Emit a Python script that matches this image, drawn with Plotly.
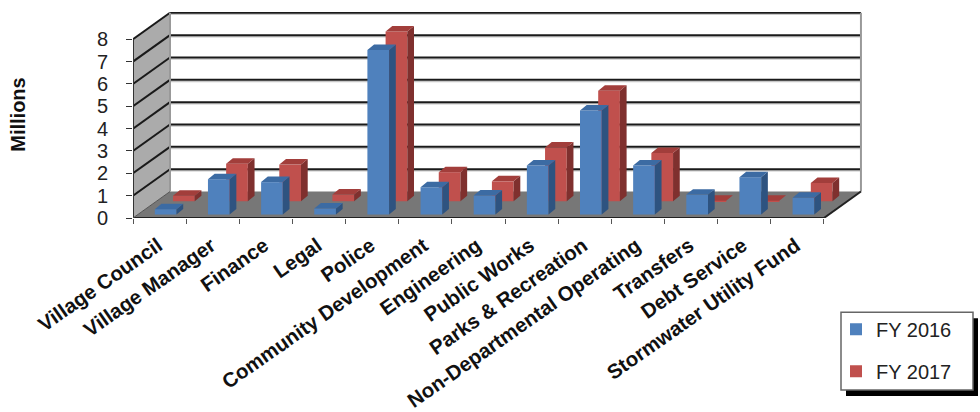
import plotly.graph_objects as go

categories = ["Village Council", "Village Manager", "Finance", "Legal", "Police",
              "Community Development", "Engineering", "Public Works", "Parks & Recreation",
              "Non-Departmental Operating", "Transfers", "Debt Service", "Stormwater Utility Fund"]
fy2016 = [0.24, 1.58, 1.45, 0.27, 7.36, 1.22, 0.85, 2.19, 4.66, 2.19, 0.89, 1.67, 0.75]
fy2017 = [0.25, 1.68, 1.64, 0.30, 7.60, 1.30, 0.89, 2.41, 4.94, 2.16, 0.02, 0.02, 0.82]
y_ticks = [0, 1, 2, 3, 4, 5, 6, 7, 8]

PX_X, PX_Y = 53.15, 22.4          # px per category, px per million
L, R, T, B = 133, 862, 12, 218.5  # plot area in px
W, H = 980, 412
DX, DY = 37 / PX_X, 26.5 / PX_Y   # depth of the floor
BW = 21.7 / PX_X                  # bar width
DW, DH = 6.7 / PX_X, 5.5 / PX_Y   # depth of a bar


def add_series(fig, vals, name, rank, left, base, front, top, side, xa, ya):
    n = len(vals)
    fig.add_trace(go.Bar(x=[i + left + BW / 2 for i in range(n)], y=vals, base=base, width=BW,
                         name=name, legendgroup=name, legendrank=rank,
                         marker=dict(color=front, line=dict(width=0)), xaxis=xa, yaxis=ya))
    sx, sy, tx, ty = [], [], [], []
    for i, v in enumerate(vals):
        x0, x1, y1 = i + left, i + left + BW, base + v
        sx += [x1, x1 + DW, x1 + DW, x1, x1, None]
        sy += [base, base + DH, y1 + DH, y1, base, None]
        tx += [x0, x1, x1 + DW, x0 + DW, x0, None]
        ty += [y1, y1, y1 + DH, y1 + DH, y1, None]
    for xs, ys, c in ((sx, sy, side), (tx, ty, top)):
        fig.add_trace(go.Scatter(x=xs, y=ys, mode="lines", fill="toself", fillcolor=c,
                                 line=dict(width=0), showlegend=False, hoverinfo="skip",
                                 xaxis=xa, yaxis=ya))


fig = go.Figure()
add_series(fig, fy2017, "FY 2017", 2, 40 / PX_X, 16.8 / PX_Y, "#C0504D", "#A23E3B", "#7F302E", "x", "y")
add_series(fig, fy2016, "FY 2016", 1, 21.8 / PX_X, 3.5 / PX_Y, "#4F81BD", "#3C6BA3", "#2E5380", "x2", "y2")

n = len(categories)
top_v = y_ticks[-1]
shapes = [
    dict(type="path", xref="x", yref="y", layer="below", line=dict(width=0), fillcolor="#FFFFFF",
         path=f"M{DX},{DY} H{n + DX} V{top_v + DY} H{DX} Z"),
    dict(type="path", xref="x", yref="y", layer="below", line=dict(width=0), fillcolor="#ABABAB",
         path=f"M0,0 L{DX},{DY} V{top_v + DY} L0,{top_v} Z"),
    dict(type="path", xref="x", yref="y", layer="below", line=dict(width=0), fillcolor="#777777",
         path=f"M0,0 L{DX},{DY} H{n + DX} L{n},0 Z"),
]
for v in y_ticks[1:]:
    shapes.append(dict(type="line", xref="x", yref="y", layer="below", x0=DX, x1=n + DX,
                       y0=v + DY - 0.07, y1=v + DY - 0.07, line=dict(color="#C8C8C8", width=1.5)))
    shapes.append(dict(type="line", xref="x", yref="y", layer="below", x0=DX, x1=n + DX,
                       y0=v + DY, y1=v + DY, line=dict(color="#1A1A1A", width=2)))
    shapes.append(dict(type="line", xref="x", yref="y", layer="below", x0=0, x1=DX,
                       y0=v, y1=v + DY, line=dict(color="#1A1A1A", width=2)))
for x in (DX, n + DX):
    shapes.append(dict(type="line", xref="x", yref="y", layer="below", x0=x, x1=x,
                       y0=DY, y1=top_v + DY, line=dict(color="#999999", width=2)))
shapes += [
    dict(type="line", xref="x", yref="y", layer="below", x0=0, x1=0, y0=0, y1=top_v,
         line=dict(color="#333333", width=2)),
    dict(type="line", xref="x", yref="y", layer="below", x0=0, x1=n, y0=0, y1=0,
         line=dict(color="#222222", width=2)),
    dict(type="line", xref="x", yref="y", layer="below", x0=n, x1=n + DX, y0=0, y1=DY,
         line=dict(color="#222222", width=2)),
    dict(type="line", xref="x", yref="y", layer="below", x0=0, x1=DX, y0=0, y1=DY,
         line=dict(color="#555555", width=1)),
]


def px(xp):
    return (xp - L) / (R - L)


def py(yp):
    return (B - yp) / (B - T)


shapes += [
    dict(type="rect", xref="paper", yref="paper", x0=px(846), x1=px(978), y0=py(319), y1=py(397),
         fillcolor="#000000", line=dict(width=0)),
    dict(type="rect", xref="paper", yref="paper", x0=px(841), x1=px(973), y0=py(313), y1=py(391),
         fillcolor="#FFFFFF", line=dict(color="#666666", width=1.5)),
]

fig.update_layout(
    width=W, height=H, template="none", autosize=False, barmode="overlay",
    margin=dict(l=L, r=W - R, t=T, b=H - B, autoexpand=False),
    paper_bgcolor="#FFFFFF", plot_bgcolor="rgba(0,0,0,0)",
    font=dict(family="Liberation Sans, Arial, sans-serif", color="#111111"),
    shapes=shapes, showlegend=True,
    legend=dict(x=px(836), y=py(310.5), xanchor="left", yanchor="top", bgcolor="rgba(0,0,0,0)",
                borderwidth=0, font=dict(size=20, color="#222222"), traceorder="grouped",
                tracegroupgap=13),
    annotations=[dict(text="<b>Millions</b>", xref="paper", yref="paper", x=px(18), y=py(115),
                      textangle=-90, showarrow=False, xanchor="center", yanchor="middle",
                      font=dict(size=20, color="#111111"))],
    xaxis=dict(range=[0, (R - L) / PX_X], tickmode="array",
               tickvals=[i + 0.47 for i in range(n)], ticktext=categories, ticks="", tickangle=-35,
               tickfont=dict(size=20.4, color="#111111", family="Liberation Sans, Arial, sans-serif", weight="bold"),
               ticklabelstandoff=11, showgrid=False, zeroline=False, showline=False, automargin=False,
               minor=dict(tickmode="array", tickvals=list(range(n + 1)), ticks="outside", ticklen=5,
                          tickcolor="#555555", tickwidth=1, showgrid=False)),
    yaxis=dict(range=[0, (B - T) / PX_Y], tickmode="array", tickvals=y_ticks, ticks="outside",
               ticklen=6, tickwidth=1, tickcolor="#333333", tickfont=dict(size=20, color="#222222"),
               ticklabelstandoff=14, showgrid=False, zeroline=False, showline=False, automargin=False),
    xaxis2=dict(overlaying="x", matches="x", visible=False),
    yaxis2=dict(overlaying="y", matches="y", visible=False),
)
fig.write_html("out.html", config={"displayModeBar": False},
               post_script="document.body.style.margin='0';window.dispatchEvent(new Event('resize'));")
